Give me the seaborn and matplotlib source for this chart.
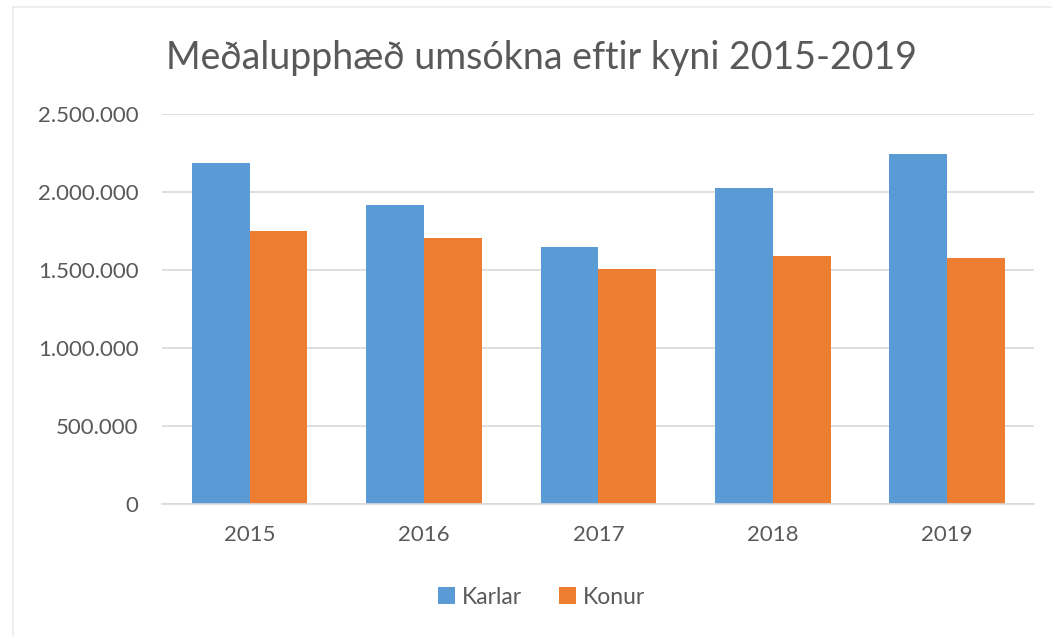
import matplotlib
matplotlib.use("Agg")
import matplotlib.pyplot as plt
import seaborn as sns
import pandas as pd
from matplotlib.ticker import FuncFormatter
from matplotlib.lines import Line2D
from matplotlib.patches import Patch

years = ["2015", "2016", "2017", "2018", "2019"]
karlar = [2185000, 1918000, 1645000, 2027000, 2243000]
konur = [1748000, 1703000, 1507000, 1590000, 1578000]
series_names = ["Karlar", "Konur"]
title = "Meðalupphæð umsókna eftir kyni 2015-2019"

df = pd.DataFrame({
    "Ár": years * 2,
    "Kyn": [series_names[0]] * len(years) + [series_names[1]] * len(years),
    "Upphæð": karlar + konur,
})

sns.set_theme(style="white")
plt.rcParams["font.family"] = ["Lato", "DejaVu Sans"]

colors = ["#5B9BD5", "#ED7D31"]
txt = "#595959"

fig = plt.figure(figsize=(10.52, 6.36), dpi=100)
ax = fig.add_axes([0.1543, 0.2075, 0.829, 0.6133])

sns.barplot(data=df, x="Ár", y="Upphæð", hue="Kyn", palette=colors,
            width=0.662, ax=ax, legend=False, saturation=1, edgecolor="none")

ax.set_ylim(0, 2500000)
ax.set_xlim(-0.5, len(years) - 0.5)
ax.set_yticks([0, 500000, 1000000, 1500000, 2000000, 2500000])
ax.yaxis.set_major_formatter(FuncFormatter(lambda v, p: f"{int(v):,}".replace(",", ".")))
ax.grid(axis="y", color="#D9D9D9", linewidth=1.2)
ax.set_axisbelow(True)
for s in ["top", "right", "left"]:
    ax.spines[s].set_visible(False)
ax.spines["bottom"].set_color("#D9D9D9")
ax.spines["bottom"].set_linewidth(1.2)
ax.tick_params(axis="both", length=0, labelsize=16, labelcolor=txt)
ax.tick_params(axis="y", pad=17)
ax.tick_params(axis="x", pad=15)
ax.set_xlabel("")
ax.set_ylabel("")

fig.text(0.515, 0.909, title, ha="center", va="center", fontsize=27, color=txt)

handles = [Patch(facecolor=c, edgecolor="none") for c in colors]
fig.legend(handles, series_names, loc="center", bbox_to_anchor=(0.515, 0.061),
           ncol=2, frameon=False, fontsize=16.5, labelcolor=txt,
           handlelength=0.75, handleheight=0.75, handletextpad=0.3, columnspacing=1.6)

# light chart-area frame (top and left edges)
fig.add_artist(Line2D([13 / 1052, 1], [1 - 7 / 636, 1 - 7 / 636], color="#EBEBEB", linewidth=1.2))
fig.add_artist(Line2D([13 / 1052, 13 / 1052], [0, 1 - 7 / 636], color="#EBEBEB", linewidth=1.2))

fig.savefig("out.png", dpi=100, facecolor="white")
